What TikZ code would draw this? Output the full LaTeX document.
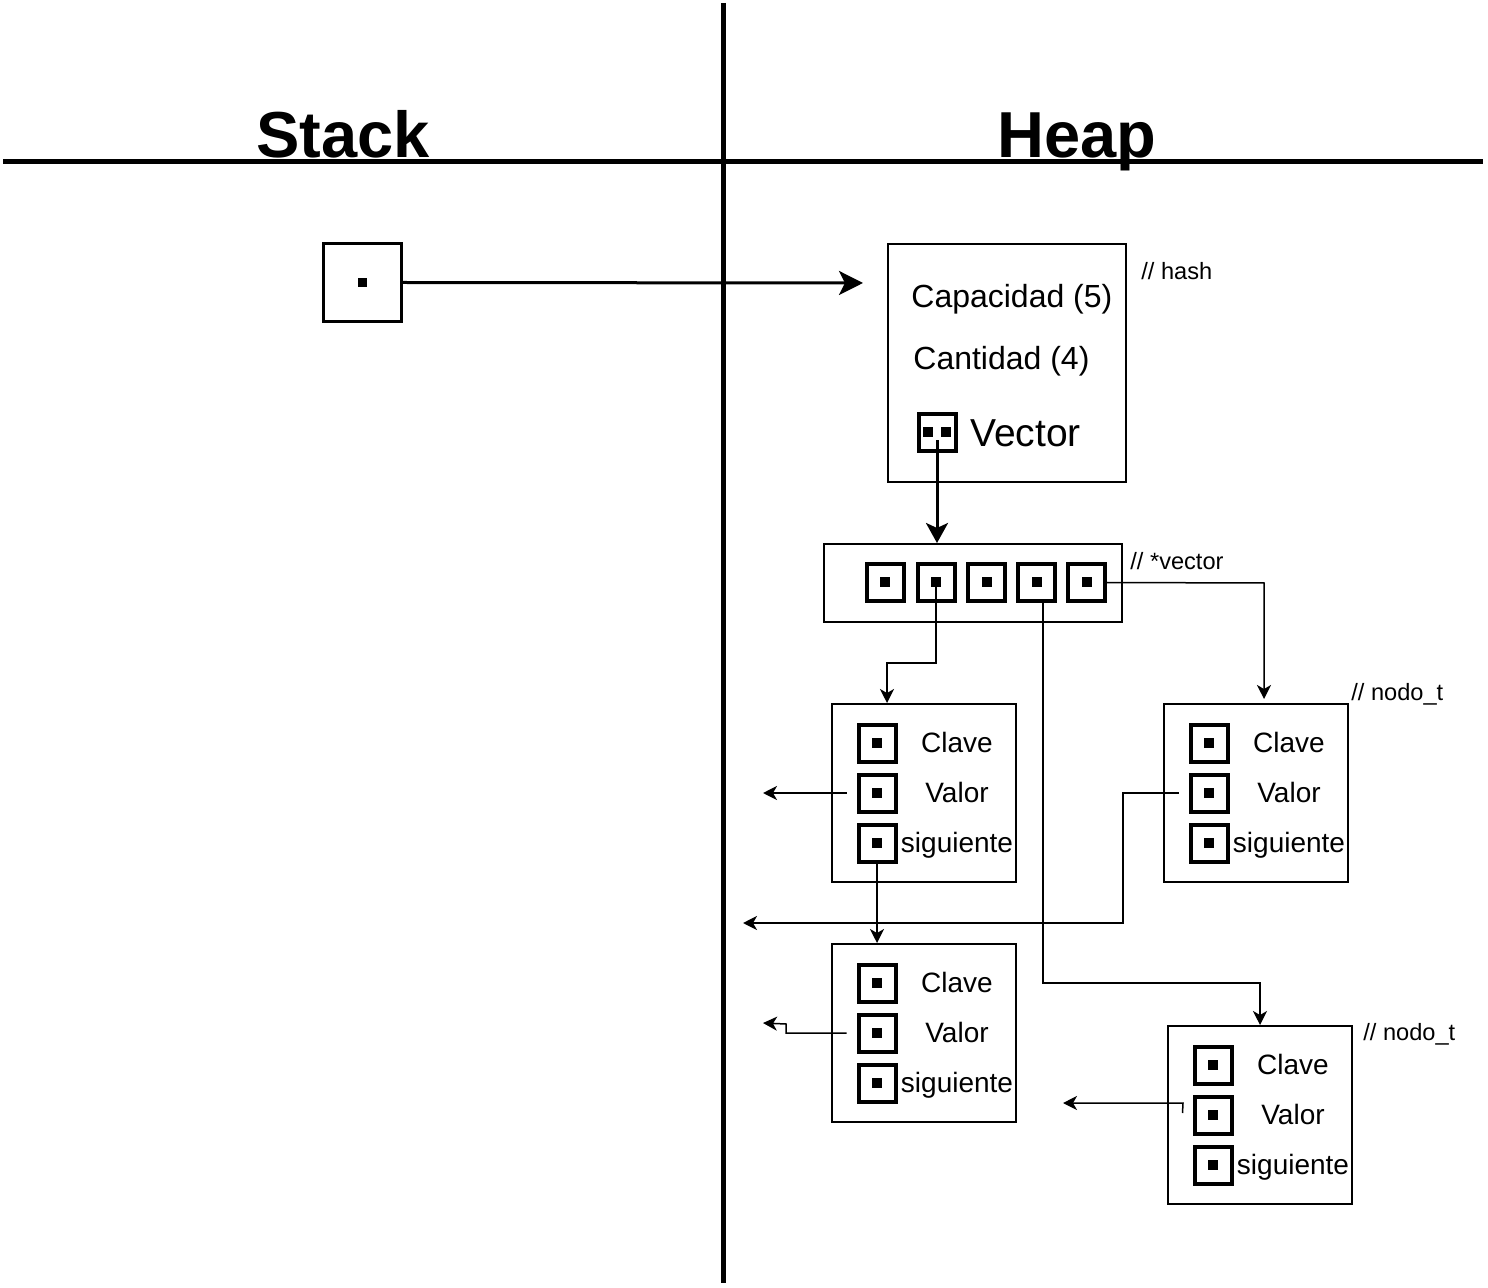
\documentclass[tikz,border=0pt]{standalone}
\usepackage{fontspec}
\setmainfont{Liberation Sans}
\usetikzlibrary{arrows.meta,calc}
\begin{document}
\begin{tikzpicture}[x=0.5pt,y=-0.5pt,
  box/.style={draw, line width=1pt, inner sep=0pt},
  cell/.style={draw, line width=2pt, minimum size=18.5pt, inner sep=0pt,
    path picture={\fill ([xshift=-2.5pt,yshift=-2.5pt]path picture bounding box.center) rectangle ++(5pt,5pt);}},
  txt/.style={inner sep=0pt, anchor=base, font=\fontsize{14pt}{16pt}\selectfont},
  cmt/.style={inner sep=0pt, anchor=base west, font=\fontsize{11.8pt}{14pt}\selectfont},
  big/.style={inner sep=0pt, anchor=base west, font=\fontsize{16pt}{19pt}\selectfont},
  title/.style={inner sep=0pt, anchor=base, font=\fontsize{32.5pt}{38pt}\selectfont\bfseries},
  divider/.style={line width=2.5pt},
  bigarrow/.style={line width=1.5pt, -{Stealth[length=12pt,width=12pt,inset=3pt]}},
  midarrow/.style={line width=1.5pt, -{Stealth[length=10pt,width=11pt,inset=2.5pt]}},
  conn/.style={line width=0.75pt, -{Stealth[length=7pt,width=7pt,inset=2pt]}}
]
\useasboundingbox (0,0) rectangle (1488,1288);
\fill[white] (0,0) rectangle (1488,1288);

% dividers
\draw[divider] (3,162) -- (1483,162);
\draw[divider] (723,3) -- (723,1283);
\node[title] (stack) at (343,158) {Stack};
\node[title] (heap) at (1077,158) {Heap};

% stack pointer
\node[draw, line width=1.5pt, minimum size=39pt, inner sep=0pt,
  path picture={\fill ([xshift=-2.25pt,yshift=-2.25pt]path picture bounding box.center) rectangle ++(4.5pt,4.5pt);}]
  (sp) at (362.5,282.5) {};
\coordinate (hashin) at (863,283);

% hash struct
\node[box, minimum width=119pt, minimum height=119pt] (hash) at (1007,363) {};
\node[cmt] (hashc) at (1141,280) {// hash};
\node[big] (cap) at (911,308) {Capacidad (5)};
\node[big] (cant) at (913,370) {Cantidad (4)};
\node[draw, line width=2pt, minimum size=18.5pt, inner sep=0pt,
  path picture={\fill ([xshift=-7pt,yshift=-2.5pt]path picture bounding box.center) rectangle ++(5pt,5pt);
                \fill ([xshift=2pt,yshift=-2.5pt]path picture bounding box.center) rectangle ++(5pt,5pt);}]
  (vc) at (937,432.5) {};
\node[inner sep=0pt, anchor=base west, font=\fontsize{19.5pt}{23pt}\selectfont] (vtxt) at (970,447) {Vector};

% vector
\node[box, minimum width=149pt, minimum height=39pt] (vbox) at (973,583) {};
\node[cmt] (vecc) at (1130,570) {// *vector};
\node[cell] (v1) at (885,582.5) {};
\node[cell] (v2) at (936,582.5) {};
\node[cell] (v3) at (986.5,582.5) {};
\node[cell] (v4) at (1036.5,582.5) {};
\node[cell] (v5) at (1086.5,582.5) {};

% node A
\node[box, minimum width=92pt, minimum height=89pt] (A) at (924,793) {};
\node[cell] (a1) at (877,743) {};
\node[cell] (a2) at (877,793) {};
\node[cell] (a3) at (877,843) {};
\node[txt] (a1t) at (957,752) {Clave};
\node[txt] (a2t) at (957,802) {Valor};
\node[txt] (a3t) at (957,852) {siguiente};

% node B
\node[box, minimum width=92pt, minimum height=89pt] (B) at (1256,793) {};
\node[cmt] (Bc) at (1351,700) {// nodo\_t};
\node[cell] (b1) at (1209,743) {};
\node[cell] (b2) at (1209,793) {};
\node[cell] (b3) at (1209,843) {};
\node[txt] (b1t) at (1289,752) {Clave};
\node[txt] (b2t) at (1289,802) {Valor};
\node[txt] (b3t) at (1289,852) {siguiente};

% node C
\node[box, minimum width=92pt, minimum height=89pt] (C) at (924,1033) {};
\node[cell] (c1) at (877,983) {};
\node[cell] (c2) at (877,1033) {};
\node[cell] (c3) at (877,1083) {};
\node[txt] (c1t) at (957,992) {Clave};
\node[txt] (c2t) at (957,1042) {Valor};
\node[txt] (c3t) at (957,1092) {siguiente};

% node D
\node[box, minimum width=92pt, minimum height=89pt] (D) at (1260,1115) {};
\node[cmt] (Dc) at (1363,1040) {// nodo\_t};
\node[cell] (d1) at (1213,1065) {};
\node[cell] (d2) at (1213,1115) {};
\node[cell] (d3) at (1213,1165) {};
\node[txt] (d1t) at (1293,1074) {Clave};
\node[txt] (d2t) at (1293,1124) {Valor};
\node[txt] (d3t) at (1293,1174) {siguiente};

% free ends
\coordinate (aout) at (763,793);
\coordinate (bout) at (743,923);
\coordinate (cout) at (763,1023);
\coordinate (dout) at (1063,1103);

% connectors
\draw[bigarrow] (sp.east) -- (hashin);
\draw[midarrow] ([yshift=-4pt]vc.center) -- (vbox.north -| vc.center);
\draw[conn] (v2.center) -- (v2.center |- 0,663) -- (887,663) -- (A.north -| 887,0);
\draw[conn] ([xshift=3.25pt]v4.south) -- (1043,983) -- (1260,983) -- (D.north);
\draw[conn] (v5.east) -- (1264,583) -- ([yshift=2pt]B.north -| 1264,0);
\draw[conn] ([xshift=-5pt]a2.west) -- (aout);
\draw[conn] (a3.south) -- (C.north -| a3.south);
\draw[conn] ([xshift=-5pt]b2.west) -- (1123,793) -- (1123,923) -- (bout);
\draw[conn] ([xshift=-5pt]c2.west) -- (786,1033) -- (786,1024) -- (cout);
\draw[conn] ([xshift=-5pt,yshift=1pt]d2.west) -- (1183,1103) -- (dout);
\end{tikzpicture}
\end{document}
